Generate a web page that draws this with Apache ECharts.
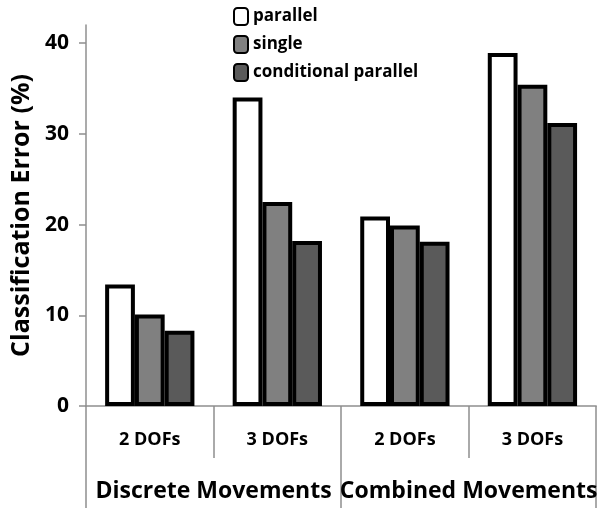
<!DOCTYPE html>
<html>
<head>
<meta charset="utf-8">
<script src="https://cdn.jsdelivr.net/npm/echarts@6/dist/echarts.min.js"></script>
<style>html,body{margin:0;padding:0;background:#fff}#c{width:600px;height:513px}</style>
</head>
<body>
<div id="c"></div>
<script>
var categories = ['2 DOFs', '3 DOFs', '2 DOFs', '3 DOFs'];
var groups = ['Discrete Movements', 'Combined Movements'];
var seriesNames = ['parallel', 'single', 'conditional parallel'];
var parallel = [13.4, 34.0, 20.9, 38.9];
var single = [10.1, 22.5, 19.9, 35.4];
var conditional = [8.3, 18.2, 18.1, 31.2];
var yTicks = [0, 10, 20, 30, 40];

var FONT = 'Open Sans';
var axisGray = '#8f8f8f';
var colors = ['#ffffff', '#808080', '#5a5a5a'];
var values = [parallel, single, conditional];

var chart = echarts.init(document.getElementById('c'));
chart.setOption({
  animation: false,
  grid: { left: 86, right: 2, top: 25, bottom: 107, containLabel: false },
  legend: {
    orient: 'vertical', left: 228, top: 2, itemGap: 9,
    itemWidth: 14, itemHeight: 17,
    textStyle: { fontFamily: FONT, fontWeight: 'bold', fontSize: 17, color: '#000' },
    data: seriesNames
  },
  xAxis: [{
    type: 'category', data: categories, position: 'bottom',
    axisLine: { show: true, lineStyle: { color: axisGray, width: 1.5 } },
    axisTick: { show: true, length: 52, lineStyle: { color: axisGray, width: 1.5 } },
    axisLabel: { interval: 0, margin: 25, fontFamily: FONT, fontWeight: 'bold', fontSize: 18, color: '#000' }
  }, {
    type: 'category', data: groups, position: 'bottom',
    axisLine: { show: false },
    axisTick: { show: true, length: 102, lineStyle: { color: axisGray, width: 1.5 } },
    axisLabel: { interval: 0, hideOverlap: false, margin: 74, fontFamily: FONT, fontWeight: 'bold', fontSize: 23, color: '#000' }
  }],
  yAxis: {
    type: 'value', min: 0, max: 42, interval: 10,
    name: 'Classification Error (%)', nameLocation: 'middle', nameGap: 51, nameRotate: 90,
    nameTextStyle: { fontFamily: FONT, fontWeight: 'bold', fontSize: 25, color: '#000' },
    axisLine: { show: true, lineStyle: { color: axisGray, width: 1.5 } },
    axisTick: { show: true, length: 7, customValues: yTicks, lineStyle: { color: axisGray, width: 1.5 } },
    axisLabel: { customValues: yTicks, margin: 17, fontFamily: FONT, fontWeight: 'bold', fontSize: 21, color: '#000' },
    splitLine: { show: false }
  },
  series: seriesNames.map(function (n, i) {
    return {
      name: n, type: 'bar', xAxisIndex: 0, data: values[i],
      barGap: '0%', barCategoryGap: '30%',
      itemStyle: { color: colors[i], borderColor: '#000', borderWidth: 4 }
    };
  })
});
</script>
</body>
</html>
